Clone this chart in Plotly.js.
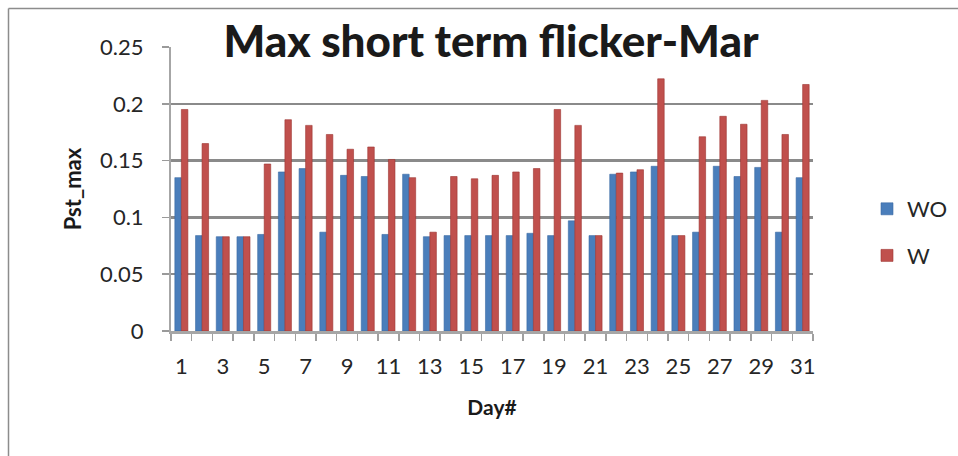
<!DOCTYPE html>
<html>
<head>
<meta charset="utf-8">
<script src="https://cdn.plot.ly/plotly-3.0.1.min.js"></script>
<style>
  html, body { margin: 0; padding: 0; background: #ffffff; }
  #chart { width: 958px; height: 456px; }
</style>
</head>
<body>
<div id="chart"></div>
<script>
// Days of March
const days = [1, 2, 3, 4, 5, 6, 7, 8, 9, 10, 11, 12, 13, 14, 15, 16,
              17, 18, 19, 20, 21, 22, 23, 24, 25, 26, 27, 28, 29, 30, 31];

// Maximum short-term flicker (Pst) per day, without / with
const pstWO = [0.135, 0.084, 0.083, 0.083, 0.085, 0.140, 0.143, 0.087, 0.137, 0.136, 0.085,
               0.138, 0.083, 0.084, 0.084, 0.084, 0.084, 0.086, 0.084, 0.097, 0.084,
               0.138, 0.140, 0.145, 0.084, 0.087, 0.145, 0.136, 0.144, 0.087, 0.135];
const pstW  = [0.195, 0.165, 0.083, 0.083, 0.147, 0.186, 0.181, 0.173, 0.160, 0.162, 0.151,
               0.135, 0.087, 0.136, 0.134, 0.137, 0.140, 0.143, 0.195, 0.181, 0.084,
               0.139, 0.142, 0.222, 0.084, 0.171, 0.189, 0.182, 0.203, 0.173, 0.217];

// Labelled days on the category axis
const dayTicks = [1, 3, 5, 7, 9, 11, 13, 15, 17, 19, 21, 23, 25, 27, 29, 31];
const dayTickText = dayTicks.map(String);

const seriesNames = ['WO', 'W'];
const yTicks = [0, 0.05, 0.1, 0.15, 0.2, 0.25];
const yTickText = ['0', '0.05', '0.1', '0.15', '0.2', '0.25'];

const W = 958, H = 456;
const M = { l: 171, r: 145, t: 47, b: 125, autoexpand: false };
const plotW = W - M.l - M.r, plotH = H - M.t - M.b;
const px2x = p => (p - M.l) / plotW;
const px2y = p => (H - M.b - p) / plotH;

const FONT = 'Lato, "Liberation Sans", Arial, sans-serif';
const GRID = '#8a8a8a';

const traces = [
  {
    type: 'bar', name: seriesNames[0], x: days, y: pstWO,
    marker: { color: '#4a7ebb', line: { color: '#3a6aa3', width: 0.6 } },
    legendgroup: 'a', hoverinfo: 'x+y'
  },
  {
    type: 'bar', name: seriesNames[1], x: days, y: pstW,
    marker: { color: '#c0504d', line: { color: '#9c3431', width: 0.6 } },
    legendgroup: 'b', hoverinfo: 'x+y'
  }
];

const layout = {
  width: W, height: H,
  margin: M,
  paper_bgcolor: '#ffffff', plot_bgcolor: 'rgba(0,0,0,0)',
  font: { family: FONT, size: 22, color: '#262626' },
  barmode: 'group', bargap: 0.37, bargroupgap: 0,
  title: {
    text: 'Max short term flicker-Mar',
    font: { family: FONT, size: 44, color: '#1a1a1a', weight: 900 },
    x: 491 / W, xanchor: 'center', xref: 'container',
    y: 1 - 42 / H, yanchor: 'middle', yref: 'container'
  },
  xaxis: {
    type: 'linear', range: [0.5, 31.5], fixedrange: true,
    tickmode: 'array', tickvals: dayTicks, ticktext: dayTickText,
    ticks: '', ticklabelstandoff: 14,
    tickfont: { family: FONT, size: 22, color: '#262626' },
    showgrid: false, zeroline: false,
    showline: true, linecolor: '#a6a6a6', linewidth: 3,
    minor: { ticks: 'outside', tick0: 0.5, dtick: 1, ticklen: 7, tickcolor: '#a0a0a0', tickwidth: 1.5, showgrid: false },
    title: { text: '<b>Day#</b>', font: { family: FONT, size: 21, color: '#1a1a1a' }, standoff: 22 }
  },
  yaxis: {
    range: [0, 0.25], fixedrange: true,
    tickmode: 'array', tickvals: yTicks, ticktext: yTickText,
    ticks: 'outside', ticklen: 7, tickcolor: '#9a9a9a', tickwidth: 1.5,
    ticklabelstandoff: 14,
    tickfont: { family: FONT, size: 22, color: '#262626' },
    showgrid: true, gridcolor: GRID, gridwidth: 2.5,
    zeroline: false,
    showline: true, linecolor: '#a6a6a6', linewidth: 2,
    title: { text: '<b>Pst_max</b>', font: { family: FONT, size: 22, color: '#1a1a1a' }, standoff: 12 }
  },
  showlegend: true,
  legend: {
    x: px2x(867), xanchor: 'left', y: px2y(188), yanchor: 'top',
    font: { family: FONT, size: 22, color: '#262626' },
    traceorder: 'grouped', tracegroupgap: 15,
    itemwidth: 30, bgcolor: 'rgba(0,0,0,0)'
  },
  shapes: [
    // chart frame (top and left edges)
    { type: 'line', xref: 'paper', yref: 'paper', x0: px2x(8.5), x1: px2x(960), y0: px2y(8.5), y1: px2y(8.5),
      line: { color: '#8c8c8c', width: 1.5 } },
    { type: 'line', xref: 'paper', yref: 'paper', x0: px2x(8.5), x1: px2x(8.5), y0: px2y(8.5), y1: px2y(460),
      line: { color: '#8c8c8c', width: 1.5 } }
  ]
};

Plotly.newPlot('chart', traces, layout, { displayModeBar: false, staticPlot: true });
</script>
</body>
</html>
